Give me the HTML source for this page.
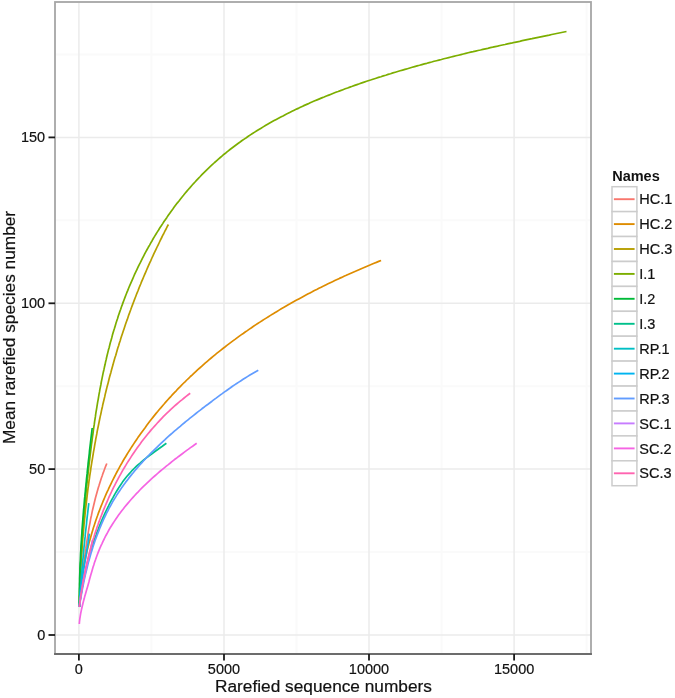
<!DOCTYPE html>
<html><head><meta charset="utf-8"><style>
html,body{margin:0;padding:0;background:#fff;}
svg{display:block;filter:blur(0.3px);}
text{font-family:"Liberation Sans",sans-serif;fill:#111;stroke:#111;stroke-width:0.2px;}
.t{font-size:14.5px;}
.t2{font-size:14.85px;}
.ti{font-size:16.9px;}
.lt{font-size:14.5px;font-weight:bold;stroke:none;}
</style></head><body>
<svg width="675" height="698" viewBox="0 0 675 698">
<rect x="0" y="0" width="675" height="698" fill="#fff"/>
<line x1="151.4" y1="2" x2="151.4" y2="654" stroke="#fafafa" stroke-width="2"/>
<line x1="296.5" y1="2" x2="296.5" y2="654" stroke="#fafafa" stroke-width="2"/>
<line x1="441.6" y1="2" x2="441.6" y2="654" stroke="#fafafa" stroke-width="2"/>
<line x1="586.6" y1="2" x2="586.6" y2="654" stroke="#fafafa" stroke-width="2"/>
<line x1="55" y1="552.1" x2="591" y2="552.1" stroke="#fafafa" stroke-width="2"/>
<line x1="55" y1="386.2" x2="591" y2="386.2" stroke="#fafafa" stroke-width="2"/>
<line x1="55" y1="220.3" x2="591" y2="220.3" stroke="#fafafa" stroke-width="2"/>
<line x1="55" y1="54.5" x2="591" y2="54.5" stroke="#fafafa" stroke-width="2"/>
<line x1="78.9" y1="2" x2="78.9" y2="654" stroke="#ebebeb" stroke-width="1.5"/>
<line x1="224.0" y1="2" x2="224.0" y2="654" stroke="#ebebeb" stroke-width="1.5"/>
<line x1="369.0" y1="2" x2="369.0" y2="654" stroke="#ebebeb" stroke-width="1.5"/>
<line x1="514.1" y1="2" x2="514.1" y2="654" stroke="#ebebeb" stroke-width="1.5"/>
<line x1="55" y1="635.0" x2="591" y2="635.0" stroke="#ebebeb" stroke-width="1.5"/>
<line x1="55" y1="469.1" x2="591" y2="469.1" stroke="#ebebeb" stroke-width="1.5"/>
<line x1="55" y1="303.3" x2="591" y2="303.3" stroke="#ebebeb" stroke-width="1.5"/>
<line x1="55" y1="137.4" x2="591" y2="137.4" stroke="#ebebeb" stroke-width="1.5"/>
<g fill="none" stroke-width="1.7" stroke-linejoin="round" stroke-linecap="butt">
<path d="M79.3,607.0 79.6,604.4 79.9,601.9 80.1,599.3 80.4,596.8 80.6,594.2 80.9,591.6 81.1,589.1 81.4,586.5 81.7,584.0 81.9,581.4 82.2,578.8 82.5,576.3 82.8,573.7 83.0,571.2 83.3,568.6 83.6,566.1 83.9,563.5 84.2,560.9 84.5,558.4 84.8,555.8 85.2,553.3 85.5,550.7 85.9,548.2 86.2,545.6 86.6,543.1 87.0,540.6 87.4,538.0 87.8,535.5 88.2,532.9 88.6,530.4 89.0,527.9 89.5,525.3 90.0,522.8 90.4,520.3 90.9,517.7 91.5,515.2 92.0,512.7 92.5,510.2 93.1,507.7 93.7,505.2 94.3,502.7 94.9,500.2 95.5,497.7 96.2,495.2 96.9,492.7 97.6,490.2 98.3,487.8 99.1,485.3 99.8,482.9 100.6,480.4 101.4,478.0 102.3,475.5 103.1,473.1 104.0,470.7 104.9,468.3 105.8,465.9 106.8,463.5" stroke="#F8766D"/>
<path d="M79.4,607.0 79.5,604.5 79.6,602.0 79.8,599.5 80.0,596.9 80.2,594.4 80.4,591.9 80.6,589.4 80.9,586.9 81.2,584.4 81.5,581.9 81.8,579.4 82.2,576.9 82.6,574.4 82.9,571.9 83.4,569.4 83.8,566.9 84.2,564.4 84.7,562.0 85.2,559.5 85.7,557.0 86.3,554.6 86.8,552.1 87.4,549.6 88.0,547.2 88.6,544.7 89.2,542.3 89.9,539.9 90.6,537.4 91.3,535.0 92.0,532.6 92.7,530.2 93.4,527.8 94.2,525.4 95.0,523.0 95.8,520.6 96.6,518.2 97.5,515.8 98.3,513.4 99.2,511.1 100.1,508.7 101.0,506.4 102.0,504.0 102.9,501.7 103.9,499.4 104.9,497.0 105.9,494.7 106.9,492.4 108.0,490.1 109.0,487.8 110.1,485.6 111.2,483.3 112.3,481.0 113.4,478.8 114.6,476.5 115.7,474.3 116.9,472.0 118.1,469.8 119.3,467.6 120.5,465.4 121.8,463.2 123.0,461.0 124.3,458.8 125.6,456.7 126.9,454.5 128.2,452.4 129.6,450.2 130.9,448.1 132.3,446.0 133.7,443.9 135.1,441.8 136.5,439.7 137.9,437.6 139.4,435.5 140.8,433.5 142.3,431.4 143.8,429.4 145.3,427.4 146.8,425.3 148.3,423.3 149.8,421.3 151.4,419.3 152.9,417.4 154.5,415.4 156.1,413.4 157.7,411.5 159.3,409.5 161.0,407.6 162.6,405.7 164.3,403.8 165.9,401.9 167.6,400.0 169.3,398.1 171.0,396.3 172.7,394.4 174.4,392.6 176.2,390.8 177.9,388.9 179.7,387.1 181.4,385.3 183.2,383.5 185.0,381.8 186.8,380.0 188.6,378.3 190.4,376.5 192.3,374.8 194.1,373.1 196.0,371.3 197.8,369.6 199.7,368.0 201.6,366.3 203.5,364.6 205.4,362.9 207.3,361.3 209.2,359.7 211.2,358.0 213.1,356.4 215.0,354.8 217.0,353.2 219.0,351.6 220.9,350.1 222.9,348.5 224.9,347.0 226.9,345.4 228.9,343.9 230.9,342.4 232.9,340.9 235.0,339.4 237.0,337.9 239.0,336.4 241.1,334.9 243.2,333.5 245.2,332.0 247.3,330.6 249.4,329.1 251.5,327.7 253.5,326.3 255.6,324.9 257.7,323.5 259.9,322.1 262.0,320.8 264.1,319.4 266.2,318.1 268.4,316.7 270.5,315.4 272.7,314.1 274.8,312.7 277.0,311.4 279.1,310.1 281.3,308.8 283.5,307.6 285.7,306.3 287.8,305.0 290.0,303.8 292.2,302.5 294.4,301.3 296.6,300.1 298.8,298.9 301.1,297.7 303.3,296.5 305.5,295.3 307.7,294.1 310.0,292.9 312.2,291.8 314.4,290.6 316.7,289.5 318.9,288.3 321.2,287.2 323.5,286.1 325.7,284.9 328.0,283.8 330.3,282.7 332.5,281.7 334.8,280.6 337.1,279.5 339.4,278.4 341.7,277.4 344.0,276.3 346.3,275.3 348.6,274.2 350.9,273.2 353.2,272.2 355.5,271.2 357.8,270.2 360.1,269.2 362.4,268.2 364.7,267.2 367.1,266.2 369.4,265.2 371.7,264.3 374.1,263.3 376.4,262.4 378.7,261.4 381.1,260.5" stroke="#DE8C00"/>
<path d="M79.4,607.0 79.4,604.5 79.5,602.0 79.6,599.4 79.6,596.9 79.7,594.4 79.8,591.9 79.9,589.3 80.0,586.8 80.1,584.3 80.2,581.8 80.3,579.2 80.4,576.7 80.5,574.2 80.7,571.7 80.8,569.2 80.9,566.6 81.1,564.1 81.2,561.6 81.4,559.1 81.5,556.6 81.7,554.0 81.9,551.5 82.0,549.0 82.2,546.5 82.4,544.0 82.6,541.5 82.8,538.9 83.0,536.4 83.2,533.9 83.4,531.4 83.7,528.9 83.9,526.4 84.1,523.9 84.4,521.3 84.6,518.8 84.9,516.3 85.1,513.8 85.4,511.3 85.6,508.8 85.9,506.3 86.2,503.8 86.5,501.3 86.8,498.8 87.1,496.2 87.4,493.7 87.7,491.2 88.0,488.7 88.4,486.2 88.7,483.7 89.0,481.2 89.4,478.7 89.7,476.2 90.1,473.7 90.5,471.2 90.8,468.7 91.2,466.2 91.6,463.7 92.0,461.2 92.4,458.8 92.8,456.3 93.2,453.8 93.6,451.3 94.1,448.8 94.5,446.3 94.9,443.8 95.4,441.3 95.8,438.9 96.3,436.4 96.8,433.9 97.2,431.4 97.7,428.9 98.2,426.5 98.7,424.0 99.2,421.5 99.7,419.0 100.2,416.6 100.8,414.1 101.3,411.6 101.8,409.2 102.4,406.7 102.9,404.2 103.5,401.8 104.1,399.3 104.7,396.9 105.2,394.4 105.8,392.0 106.4,389.5 107.0,387.1 107.7,384.6 108.3,382.2 108.9,379.7 109.5,377.3 110.2,374.8 110.9,372.4 111.5,370.0 112.2,367.5 112.9,365.1 113.5,362.7 114.2,360.2 114.9,357.8 115.7,355.4 116.4,353.0 117.1,350.6 117.8,348.1 118.6,345.7 119.3,343.3 120.1,340.9 120.8,338.5 121.6,336.1 122.4,333.7 123.2,331.3 124.0,328.9 124.8,326.5 125.6,324.1 126.4,321.7 127.3,319.4 128.1,317.0 128.9,314.6 129.8,312.2 130.7,309.8 131.5,307.5 132.4,305.1 133.3,302.7 134.2,300.4 135.1,298.0 136.0,295.7 136.9,293.3 137.9,291.0 138.8,288.6 139.7,286.3 140.7,284.0 141.6,281.6 142.6,279.3 143.6,277.0 144.6,274.6 145.6,272.3 146.6,270.0 147.6,267.7 148.6,265.4 149.6,263.1 150.7,260.8 151.7,258.5 152.8,256.2 153.8,253.9 154.9,251.6 156.0,249.3 157.1,247.0 158.2,244.8 159.3,242.5 160.4,240.2 161.5,238.0 162.6,235.7 163.8,233.5 164.9,231.2 166.1,229.0 167.2,226.7 168.4,224.5" stroke="#B79F00"/>
<path d="M79.3,607.0 79.4,604.5 79.4,602.0 79.5,599.5 79.5,596.9 79.6,594.4 79.6,591.9 79.7,589.4 79.8,586.9 79.8,584.4 79.9,581.9 80.0,579.3 80.1,576.8 80.2,574.3 80.3,571.8 80.4,569.3 80.5,566.8 80.7,564.3 80.8,561.8 80.9,559.3 81.0,556.7 81.2,554.2 81.3,551.7 81.5,549.2 81.6,546.7 81.8,544.2 82.0,541.7 82.1,539.2 82.3,536.7 82.5,534.2 82.6,531.7 82.8,529.1 83.0,526.6 83.2,524.1 83.4,521.6 83.6,519.1 83.8,516.6 84.0,514.1 84.3,511.6 84.5,509.1 84.7,506.6 84.9,504.1 85.2,501.6 85.4,499.1 85.6,496.6 85.9,494.1 86.1,491.6 86.4,489.1 86.6,486.6 86.9,484.1 87.2,481.6 87.4,479.1 87.7,476.6 88.0,474.1 88.3,471.6 88.5,469.1 88.8,466.6 89.1,464.1 89.4,461.6 89.7,459.1 90.0,456.6 90.3,454.1 90.6,451.6 90.9,449.1 91.2,446.6 91.5,444.1 91.9,441.6 92.2,439.1 92.5,436.6 92.9,434.1 93.2,431.6 93.5,429.2 93.9,426.7 94.3,424.2 94.6,421.7 95.0,419.2 95.4,416.7 95.7,414.2 96.1,411.7 96.5,409.3 96.9,406.8 97.3,404.3 97.7,401.8 98.2,399.3 98.6,396.9 99.0,394.4 99.5,391.9 99.9,389.4 100.4,387.0 100.9,384.5 101.3,382.0 101.8,379.6 102.3,377.1 102.8,374.6 103.3,372.2 103.9,369.7 104.4,367.3 105.0,364.8 105.5,362.3 106.1,359.9 106.6,357.5 107.2,355.0 107.8,352.6 108.4,350.1 109.1,347.7 109.7,345.3 110.3,342.8 111.0,340.4 111.7,338.0 112.3,335.6 113.0,333.1 113.7,330.7 114.5,328.3 115.2,325.9 115.9,323.5 116.7,321.1 117.5,318.7 118.2,316.3 119.0,313.9 119.8,311.6 120.7,309.2 121.5,306.8 122.4,304.4 123.2,302.1 124.1,299.7 125.0,297.4 125.9,295.0 126.8,292.7 127.8,290.4 128.7,288.0 129.7,285.7 130.7,283.4 131.7,281.1 132.7,278.8 133.7,276.5 134.7,274.2 135.8,271.9 136.9,269.6 137.9,267.4 139.0,265.1 140.2,262.9 141.3,260.6 142.4,258.4 143.6,256.1 144.7,253.9 145.9,251.7 147.1,249.5 148.3,247.3 149.6,245.1 150.8,242.9 152.1,240.7 153.3,238.5 154.6,236.4 155.9,234.2 157.2,232.1 158.6,230.0 159.9,227.8 161.3,225.7 162.7,223.6 164.0,221.5 165.5,219.4 166.9,217.4 168.3,215.3 169.8,213.2 171.2,211.2 172.7,209.2 174.2,207.1 175.7,205.1 177.2,203.1 178.8,201.2 180.3,199.2 181.9,197.2 183.5,195.3 185.1,193.3 186.7,191.4 188.3,189.5 190.0,187.6 191.6,185.7 193.3,183.8 195.0,182.0 196.7,180.1 198.4,178.3 200.2,176.5 201.9,174.7 203.7,172.9 205.5,171.1 207.3,169.3 209.1,167.6 210.9,165.9 212.8,164.2 214.6,162.5 216.5,160.8 218.4,159.1 220.3,157.5 222.2,155.9 224.1,154.2 226.1,152.7 228.0,151.1 230.0,149.5 232.0,148.0 234.0,146.5 236.0,145.0 238.0,143.5 240.1,142.0 242.1,140.5 244.2,139.1 246.3,137.7 248.3,136.3 250.4,134.9 252.5,133.5 254.7,132.1 256.8,130.8 258.9,129.5 261.1,128.2 263.2,126.9 265.4,125.6 267.6,124.3 269.7,123.1 271.9,121.8 274.1,120.6 276.3,119.4 278.5,118.2 280.8,117.0 283.0,115.9 285.2,114.7 287.5,113.6 289.7,112.4 292.0,111.3 294.2,110.2 296.5,109.1 298.8,108.1 301.0,107.0 303.3,105.9 305.6,104.9 307.9,103.9 310.2,102.8 312.5,101.8 314.8,100.8 317.1,99.9 319.5,98.9 321.8,97.9 324.1,97.0 326.4,96.0 328.8,95.1 331.1,94.2 333.4,93.3 335.8,92.3 338.1,91.5 340.5,90.6 342.9,89.7 345.2,88.8 347.6,88.0 349.9,87.1 352.3,86.3 354.7,85.4 357.0,84.6 359.4,83.8 361.8,82.9 364.2,82.1 366.6,81.3 369.0,80.5 371.3,79.8 373.7,79.0 376.1,78.2 378.5,77.4 380.9,76.7 383.3,75.9 385.7,75.2 388.1,74.4 390.5,73.7 392.9,72.9 395.3,72.2 397.7,71.5 400.1,70.8 402.6,70.1 405.0,69.4 407.4,68.7 409.8,68.0 412.2,67.3 414.6,66.6 417.1,65.9 419.5,65.3 421.9,64.6 424.3,63.9 426.8,63.3 429.2,62.6 431.6,62.0 434.1,61.3 436.5,60.7 438.9,60.1 441.4,59.5 443.8,58.8 446.2,58.2 448.7,57.6 451.1,57.0 453.6,56.4 456.0,55.8 458.4,55.2 460.9,54.6 463.3,54.0 465.8,53.4 468.2,52.8 470.7,52.2 473.1,51.7 475.6,51.1 478.0,50.5 480.5,50.0 482.9,49.4 485.4,48.8 487.8,48.3 490.3,47.7 492.7,47.2 495.2,46.6 497.6,46.1 500.1,45.5 502.5,45.0 505.0,44.5 507.4,43.9 509.9,43.4 512.4,42.9 514.8,42.3 517.3,41.8 519.7,41.3 522.2,40.7 524.7,40.2 527.1,39.7 529.6,39.2 532.0,38.7 534.5,38.1 537.0,37.6 539.4,37.1 541.9,36.6 544.3,36.1 546.8,35.6 549.3,35.1 551.7,34.5 554.2,34.0 556.6,33.5 559.1,33.0 561.6,32.5 564.0,32.0 566.5,31.5" stroke="#7CAE00"/>
<path d="M79.3,607.0 79.3,604.4 79.3,601.9 79.3,599.3 79.3,596.7 79.4,594.2 79.4,591.6 79.4,589.0 79.5,586.5 79.5,583.9 79.6,581.3 79.6,578.8 79.7,576.2 79.8,573.7 79.9,571.1 79.9,568.5 80.0,566.0 80.1,563.4 80.3,560.8 80.4,558.3 80.5,555.7 80.6,553.1 80.8,550.6 80.9,548.0 81.0,545.5 81.2,542.9 81.4,540.3 81.5,537.8 81.7,535.2 81.9,532.7 82.0,530.1 82.2,527.5 82.4,525.0 82.6,522.4 82.8,519.9 83.0,517.3 83.2,514.8 83.4,512.2 83.6,509.6 83.9,507.1 84.1,504.5 84.3,502.0 84.5,499.4 84.8,496.9 85.0,494.3 85.3,491.8 85.5,489.2 85.8,486.7 86.0,484.1 86.3,481.5 86.5,479.0 86.8,476.4 87.1,473.9 87.3,471.3 87.6,468.8 87.9,466.2 88.1,463.7 88.4,461.1 88.7,458.6 89.0,456.0 89.3,453.5 89.5,450.9 89.8,448.4 90.1,445.8 90.4,443.3 90.7,440.7 91.0,438.2 91.3,435.6 91.6,433.1 91.9,430.5 92.2,428.0" stroke="#00BA38"/>
<path d="M79.3,607.0 79.7,604.5 80.0,601.9 80.3,599.4 80.7,596.8 81.1,594.3 81.5,591.8 81.9,589.2 82.4,586.7 82.8,584.2 83.3,581.7 83.8,579.1 84.3,576.6 84.8,574.1 85.4,571.6 86.0,569.1 86.6,566.6 87.2,564.1 87.8,561.7 88.5,559.2 89.1,556.7 89.8,554.2 90.6,551.8 91.3,549.3 92.0,546.9 92.8,544.4 93.6,542.0 94.4,539.6 95.3,537.1 96.2,534.7 97.0,532.3 98.0,529.9 98.9,527.5 99.8,525.1 100.8,522.8 101.8,520.4 102.8,518.1 103.9,515.7 104.9,513.4 106.0,511.1 107.1,508.8 108.3,506.5 109.4,504.2 110.6,501.9 111.8,499.6 113.1,497.4 114.3,495.1 115.6,492.9 116.9,490.7 118.3,488.5 119.6,486.4 121.1,484.2 122.5,482.1 124.0,480.1 125.6,478.0 127.2,476.0 128.9,474.1 130.6,472.2 132.3,470.3 134.1,468.5 136.0,466.7 137.9,464.9 139.8,463.3 141.7,461.6 143.7,460.0 145.7,458.4 147.8,456.8 149.8,455.3 151.9,453.7 153.9,452.2 156.0,450.7 158.1,449.2 160.2,447.7 162.3,446.2 164.3,444.7 166.4,443.2" stroke="#00C08B"/>
<path d="M79.3,607.0 79.5,604.4 79.7,601.8 79.8,599.2 80.0,596.6 80.2,594.0 80.3,591.4 80.5,588.8 80.7,586.2 80.9,583.6 81.1,581.0 81.3,578.4 81.5,575.8 81.7,573.2 81.9,570.6 82.1,568.0 82.4,565.4 82.6,562.8 82.8,560.2 83.1,557.6 83.3,555.0 83.5,552.4 83.8,549.8 84.0,547.2 84.3,544.7 84.6,542.1 84.8,539.5 85.1,536.9 85.3,534.3 85.6,531.7 85.9,529.1 86.2,526.5 86.5,523.9 86.7,521.3 87.0,518.7 87.3,516.1 87.6,513.6 87.9,511.0 88.2,508.4 88.5,505.8 88.8,503.2" stroke="#00BFC4"/>
<path d="M79.3,607.0 79.5,604.4 79.6,601.7 79.8,599.1 80.0,596.4 80.3,593.8 80.5,591.2 80.8,588.5 81.2,585.9 81.5,583.3 81.9,580.7 82.3,578.0 82.7,575.4 83.1,572.8 83.5,570.2 83.9,567.6 84.4,565.0 84.8,562.4 85.3,559.7 85.7,557.1 86.2,554.5 86.6,551.9 87.0,549.3 87.5,546.7 87.9,544.1 88.3,541.5 88.7,538.8 89.0,536.2 89.4,533.6" stroke="#00B4F0"/>
<path d="M79.4,607.0 79.7,604.5 80.1,602.0 80.5,599.5 81.0,597.0 81.4,594.5 81.8,592.0 82.3,589.5 82.8,587.0 83.3,584.5 83.8,582.1 84.3,579.6 84.9,577.1 85.4,574.6 86.0,572.2 86.6,569.7 87.2,567.2 87.8,564.8 88.4,562.3 89.1,559.9 89.8,557.5 90.5,555.0 91.2,552.6 92.0,550.2 92.7,547.8 93.5,545.3 94.3,542.9 95.1,540.5 96.0,538.2 96.9,535.8 97.8,533.4 98.7,531.1 99.6,528.7 100.6,526.4 101.6,524.0 102.6,521.7 103.6,519.4 104.7,517.1 105.8,514.8 106.9,512.5 108.1,510.3 109.2,508.0 110.5,505.8 111.7,503.6 112.9,501.4 114.2,499.2 115.6,497.1 116.9,494.9 118.3,492.8 119.7,490.7 121.1,488.6 122.6,486.5 124.0,484.5 125.5,482.4 127.1,480.4 128.6,478.4 130.2,476.4 131.8,474.4 133.4,472.5 135.0,470.5 136.6,468.6 138.3,466.7 140.0,464.8 141.7,462.9 143.4,461.0 145.1,459.2 146.8,457.3 148.6,455.5 150.4,453.7 152.2,451.9 154.0,450.1 155.8,448.3 157.6,446.6 159.4,444.8 161.2,443.1 163.1,441.3 165.0,439.6 166.8,437.9 168.7,436.2 170.6,434.5 172.5,432.9 174.4,431.2 176.3,429.6 178.3,427.9 180.2,426.3 182.1,424.6 184.1,423.0 186.0,421.4 188.0,419.8 190.0,418.2 192.0,416.6 193.9,415.1 195.9,413.5 197.9,411.9 199.9,410.4 201.9,408.8 203.9,407.3 205.9,405.7 208.0,404.2 210.0,402.7 212.0,401.2 214.0,399.6 216.1,398.1 218.1,396.6 220.1,395.1 222.2,393.6 224.2,392.1 226.3,390.7 228.4,389.2 230.5,387.8 232.5,386.3 234.6,384.9 236.7,383.5 238.8,382.1 241.0,380.7 243.1,379.3 245.2,378.0 247.4,376.6 249.5,375.3 251.7,374.0 253.9,372.7 256.1,371.4 258.3,370.2" stroke="#619CFF"/>
<path d="M79.3,607.0 79.6,604.4 79.9,601.8 80.3,599.2 80.6,596.6 81.0,594.0 81.5,591.4 81.9,588.8 82.4,586.2 82.9,583.6 83.4,581.0 83.9,578.5 84.5,575.9 85.0,573.3 85.6,570.8 86.2,568.2 86.7,565.6 87.3,563.1 87.9,560.5 88.5,558.0 89.1,555.4 89.7,552.8 90.3,550.3 90.8,547.7 91.4,545.1 92.0,542.6 92.5,540.0" stroke="#C77CFF"/>
<path d="M79.3,624.0 79.5,621.5 79.8,618.9 80.2,616.4 80.6,613.9 81.1,611.4 81.6,609.0 82.2,606.5 82.8,604.0 83.4,601.5 84.1,599.1 84.7,596.6 85.4,594.2 86.1,591.7 86.8,589.3 87.5,586.9 88.2,584.4 88.9,582.0 89.5,579.5 90.2,577.1 90.9,574.6 91.6,572.2 92.3,569.8 93.0,567.3 93.8,564.9 94.5,562.5 95.4,560.1 96.2,557.7 97.1,555.3 98.0,552.9 98.9,550.6 99.9,548.2 100.9,545.9 102.0,543.6 103.0,541.3 104.2,539.0 105.3,536.7 106.5,534.5 107.7,532.3 108.9,530.0 110.2,527.8 111.5,525.7 112.9,523.5 114.3,521.4 115.7,519.3 117.1,517.2 118.6,515.1 120.1,513.1 121.6,511.0 123.2,509.0 124.7,507.0 126.3,505.1 128.0,503.1 129.6,501.2 131.3,499.3 133.0,497.4 134.7,495.5 136.4,493.6 138.2,491.8 139.9,490.0 141.7,488.2 143.5,486.4 145.4,484.6 147.2,482.9 149.1,481.1 150.9,479.4 152.8,477.7 154.7,476.0 156.6,474.3 158.5,472.7 160.4,471.0 162.4,469.4 164.3,467.8 166.3,466.1 168.3,464.6 170.3,463.0 172.2,461.4 174.2,459.8 176.3,458.3 178.3,456.7 180.3,455.2 182.3,453.7 184.4,452.1 186.4,450.6 188.5,449.1 190.5,447.6 192.6,446.2 194.6,444.7 196.7,443.2" stroke="#F564E3"/>
<path d="M79.3,607.0 79.6,604.5 79.9,601.9 80.3,599.4 80.6,596.9 81.0,594.3 81.4,591.8 81.8,589.3 82.2,586.8 82.6,584.3 83.0,581.8 83.5,579.2 84.0,576.7 84.5,574.2 85.0,571.7 85.5,569.2 86.0,566.7 86.6,564.3 87.2,561.8 87.8,559.3 88.4,556.8 89.0,554.3 89.6,551.9 90.3,549.4 91.0,546.9 91.7,544.5 92.4,542.0 93.1,539.6 93.9,537.2 94.6,534.7 95.4,532.3 96.2,529.9 97.0,527.4 97.9,525.0 98.7,522.6 99.6,520.2 100.5,517.8 101.4,515.5 102.3,513.1 103.2,510.7 104.2,508.3 105.2,506.0 106.2,503.6 107.2,501.3 108.2,499.0 109.2,496.6 110.3,494.3 111.4,492.0 112.5,489.7 113.6,487.4 114.8,485.1 115.9,482.9 117.1,480.6 118.3,478.3 119.5,476.1 120.8,473.9 122.0,471.7 123.3,469.4 124.6,467.2 125.9,465.1 127.2,462.9 128.6,460.7 130.0,458.6 131.4,456.4 132.8,454.3 134.2,452.2 135.7,450.1 137.1,448.0 138.6,445.9 140.1,443.9 141.6,441.8 143.2,439.8 144.8,437.8 146.4,435.8 148.0,433.8 149.6,431.9 151.2,429.9 152.9,428.0 154.6,426.1 156.3,424.2 158.0,422.3 159.8,420.4 161.5,418.6 163.3,416.7 165.1,414.9 166.9,413.1 168.8,411.4 170.6,409.6 172.5,407.9 174.4,406.2 176.3,404.5 178.2,402.8 180.2,401.2 182.2,399.6 184.1,398.0 186.1,396.4 188.2,394.8 190.2,393.3" stroke="#FF64B0"/>
</g>
<rect x="55" y="2" width="536" height="652" fill="none" stroke="#a6a6a6" stroke-width="1.8"/>
<line x1="54.1" y1="654" x2="591.9" y2="654" stroke="#6c6c6c" stroke-width="1.9"/>
<line x1="78.9" y1="654" x2="78.9" y2="660.5" stroke="#1a1a1a" stroke-width="1.8"/>
<text x="78.9" y="674.4" text-anchor="middle" class="t2" textLength="8.06" lengthAdjust="spacingAndGlyphs">0</text>
<line x1="224.0" y1="654" x2="224.0" y2="660.5" stroke="#1a1a1a" stroke-width="1.8"/>
<text x="224.0" y="674.4" text-anchor="middle" class="t2" textLength="32.26" lengthAdjust="spacingAndGlyphs">5000</text>
<line x1="369.0" y1="654" x2="369.0" y2="660.5" stroke="#1a1a1a" stroke-width="1.8"/>
<text x="369.0" y="674.4" text-anchor="middle" class="t2" textLength="40.32" lengthAdjust="spacingAndGlyphs">10000</text>
<line x1="514.1" y1="654" x2="514.1" y2="660.5" stroke="#1a1a1a" stroke-width="1.8"/>
<text x="514.1" y="674.4" text-anchor="middle" class="t2" textLength="40.32" lengthAdjust="spacingAndGlyphs">15000</text>
<line x1="48.5" y1="635.0" x2="55" y2="635.0" stroke="#1a1a1a" stroke-width="1.8"/>
<text x="45.2" y="640.0" text-anchor="end" class="t2" textLength="8.06" lengthAdjust="spacingAndGlyphs">0</text>
<line x1="48.5" y1="469.1" x2="55" y2="469.1" stroke="#1a1a1a" stroke-width="1.8"/>
<text x="45.2" y="474.1" text-anchor="end" class="t2" textLength="16.13" lengthAdjust="spacingAndGlyphs">50</text>
<line x1="48.5" y1="303.3" x2="55" y2="303.3" stroke="#1a1a1a" stroke-width="1.8"/>
<text x="45.2" y="308.3" text-anchor="end" class="t2" textLength="24.19" lengthAdjust="spacingAndGlyphs">100</text>
<line x1="48.5" y1="137.4" x2="55" y2="137.4" stroke="#1a1a1a" stroke-width="1.8"/>
<text x="45.2" y="142.4" text-anchor="end" class="t2" textLength="24.19" lengthAdjust="spacingAndGlyphs">150</text>
<text x="323.5" y="691.8" text-anchor="middle" class="ti" textLength="216.9" lengthAdjust="spacingAndGlyphs">Rarefied sequence numbers</text>
<text transform="translate(15.4,327.5) rotate(-90)" text-anchor="middle" class="ti" textLength="233.2" lengthAdjust="spacingAndGlyphs">Mean rarefied species number</text>
<text x="612.2" y="180.5" class="lt">Names</text>
<rect x="612" y="186.7" width="24.9" height="24.92" fill="#fff" stroke="#cccccc" stroke-width="1.5"/>
<rect x="612" y="211.6" width="24.9" height="24.92" fill="#fff" stroke="#cccccc" stroke-width="1.5"/>
<rect x="612" y="236.5" width="24.9" height="24.92" fill="#fff" stroke="#cccccc" stroke-width="1.5"/>
<rect x="612" y="261.5" width="24.9" height="24.92" fill="#fff" stroke="#cccccc" stroke-width="1.5"/>
<rect x="612" y="286.4" width="24.9" height="24.92" fill="#fff" stroke="#cccccc" stroke-width="1.5"/>
<rect x="612" y="311.3" width="24.9" height="24.92" fill="#fff" stroke="#cccccc" stroke-width="1.5"/>
<rect x="612" y="336.2" width="24.9" height="24.92" fill="#fff" stroke="#cccccc" stroke-width="1.5"/>
<rect x="612" y="361.1" width="24.9" height="24.92" fill="#fff" stroke="#cccccc" stroke-width="1.5"/>
<rect x="612" y="386.1" width="24.9" height="24.92" fill="#fff" stroke="#cccccc" stroke-width="1.5"/>
<rect x="612" y="411.0" width="24.9" height="24.92" fill="#fff" stroke="#cccccc" stroke-width="1.5"/>
<rect x="612" y="435.9" width="24.9" height="24.92" fill="#fff" stroke="#cccccc" stroke-width="1.5"/>
<rect x="612" y="460.8" width="24.9" height="24.92" fill="#fff" stroke="#cccccc" stroke-width="1.5"/>
<line x1="613.9" y1="199.2" x2="634.6" y2="199.2" stroke="#F8766D" stroke-width="1.9"/>
<text x="639.3" y="204.3" class="t">HC.1</text>
<line x1="613.9" y1="224.1" x2="634.6" y2="224.1" stroke="#DE8C00" stroke-width="1.9"/>
<text x="639.3" y="229.2" class="t">HC.2</text>
<line x1="613.9" y1="249.0" x2="634.6" y2="249.0" stroke="#B79F00" stroke-width="1.9"/>
<text x="639.3" y="254.1" class="t">HC.3</text>
<line x1="613.9" y1="273.9" x2="634.6" y2="273.9" stroke="#7CAE00" stroke-width="1.9"/>
<text x="639.3" y="279.0" class="t">I.1</text>
<line x1="613.9" y1="298.8" x2="634.6" y2="298.8" stroke="#00BA38" stroke-width="1.9"/>
<text x="639.3" y="303.9" class="t">I.2</text>
<line x1="613.9" y1="323.8" x2="634.6" y2="323.8" stroke="#00C08B" stroke-width="1.9"/>
<text x="639.3" y="328.9" class="t">I.3</text>
<line x1="613.9" y1="348.7" x2="634.6" y2="348.7" stroke="#00BFC4" stroke-width="1.9"/>
<text x="639.3" y="353.8" class="t">RP.1</text>
<line x1="613.9" y1="373.6" x2="634.6" y2="373.6" stroke="#00B4F0" stroke-width="1.9"/>
<text x="639.3" y="378.7" class="t">RP.2</text>
<line x1="613.9" y1="398.5" x2="634.6" y2="398.5" stroke="#619CFF" stroke-width="1.9"/>
<text x="639.3" y="403.6" class="t">RP.3</text>
<line x1="613.9" y1="423.4" x2="634.6" y2="423.4" stroke="#C77CFF" stroke-width="1.9"/>
<text x="639.3" y="428.5" class="t">SC.1</text>
<line x1="613.9" y1="448.4" x2="634.6" y2="448.4" stroke="#F564E3" stroke-width="1.9"/>
<text x="639.3" y="453.5" class="t">SC.2</text>
<line x1="613.9" y1="473.3" x2="634.6" y2="473.3" stroke="#FF64B0" stroke-width="1.9"/>
<text x="639.3" y="478.4" class="t">SC.3</text>
</svg>
</body></html>
